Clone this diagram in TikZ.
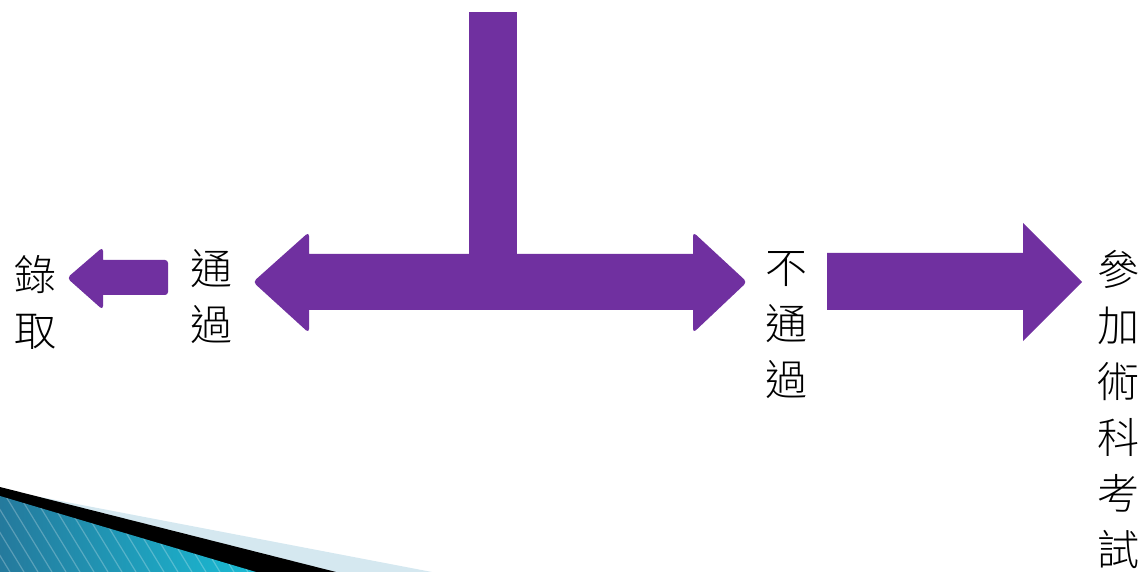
\documentclass[tikz,border=0pt]{standalone}
\usepackage{fontspec}
\newfontfamily\cjk{Noto Sans CJK TC}[UprightFont={* Light}]
\definecolor{arrowpurple}{HTML}{7030A0}
\definecolor{wedgeblue}{HTML}{2B8FB8}
\definecolor{wedgelight}{HTML}{D5E8F0}
\begin{document}
\begin{tikzpicture}[x=1pt,y=1pt]
					\tikzstyle{every node}+=[inner sep=0pt]
					\tikzstyle{lbl}=[font=\cjk\fontsize{42}{56}\selectfont, align=center]
					\useasboundingbox (0,0) rectangle (1144,-572);
					% corner wedge
					\fill [wedgelight] (40,-497) -- (432,-572) -- (0,-572) -- cycle;
					\fill [black] (0,-487) -- (336,-572) -- (0,-572) -- cycle;
					\begin{scope}
					\clip (0,-496) -- (256,-572) -- (0,-572) -- cycle;
					\shade [left color=wedgeblue!85!black, right color=wedgeblue!60!cyan] (0,-490) rectangle (260,-572);
					\foreach \s in {0,14,...,320}
						\draw [white, opacity=0.25, line width=1.2pt] (\s-40,-490) -- (\s+10,-572);
					\end{scope}
					% T stem
					\fill [arrowpurple] (469,-12) rectangle (517,-256);
					% double arrow
					\fill [arrowpurple] (309,-254) -- (693,-254)
						[rounded corners=4pt] -- (693,-232) -- (747,-282) -- (693,-333) [sharp corners] -- (693,-310)
						-- (309,-310) [rounded corners=4pt] -- (309,-333) -- (253,-282) -- (309,-232) [sharp corners] -- cycle;
					% small arrow
					\fill [arrowpurple] (168,-278) [rounded corners=3pt] -- (168,-295) [sharp corners] -- (103,-295)
						[rounded corners=4pt] -- (103,-310) -- (67,-278) -- (103,-247) [sharp corners] -- (103,-260)
						[rounded corners=3pt] -- (168,-260) [sharp corners] -- cycle;
					% big arrow
					\fill [arrowpurple] (827,-253) -- (1023,-253) -- (1023,-223) -- (1082,-282) -- (1023,-341) -- (1023,-310) -- (827,-310) -- cycle;
					% labels
					\node [lbl] (luqu) at (35,-302) {錄\\取};
					\node [lbl] (tongguo) at (211,-297) {通\\過};
					\node [lbl] (butongguo) at (786,-325) {不\\通\\過};
					\node [lbl] (shuke) at (1118,-409) {參\\加\\術\\科\\考\\試};
				\end{tikzpicture}
\end{document}
